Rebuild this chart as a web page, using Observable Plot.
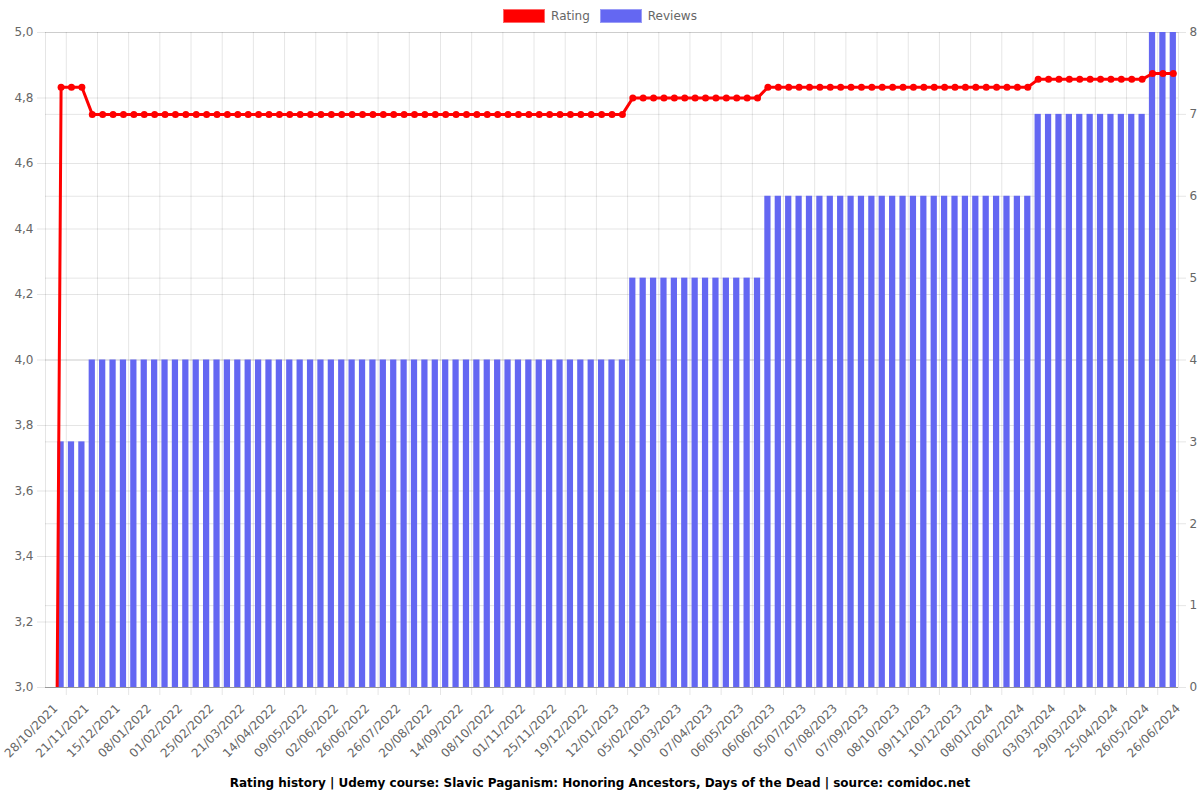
<!DOCTYPE html>
<html>
<head>
<meta charset="utf-8">
<script src="https://cdn.jsdelivr.net/npm/d3@7"></script>
<script src="https://cdn.jsdelivr.net/npm/@observablehq/plot@0.6"></script>
<style>
  body { margin: 0; background: #fff; font-family: "DejaVu Sans", sans-serif; }
  #wrap { position: relative; width: 1200px; height: 800px; overflow: hidden; }
  #legend { position: absolute; top: 0; left: 0; width: 1200px; height: 31px; display: flex; justify-content: center; align-items: center; font-size: 12px; color: #666; }
  .item { display: flex; align-items: center; margin: 0 5px; }
  .box { width: 40px; height: 12px; margin-right: 6px; box-sizing: content-box; }
  .layer { position: absolute; left: 0; top: 24px; }
  #caption { position: absolute; top: 775px; left: 0; width: 1200px; text-align: center; font-weight: bold; font-size: 12px; color: #000; line-height: 16px; }
</style>
</head>
<body>
<div id="wrap">
  <div id="legend"></div>
  <div id="l0" class="layer"></div>
  <div id="l1" class="layer"></div>
  <div id="l2" class="layer"></div>
  <div id="caption"></div>
</div>
<script>
// ---- data ----
const reviews = [
  0,
  3, 3, 3,
  4, 4, 4, 4, 4, 4, 4, 4, 4, 4, 4, 4, 4,
  4, 4, 4, 4, 4, 4, 4, 4, 4, 4, 4, 4, 4,
  4, 4, 4, 4, 4, 4, 4, 4, 4, 4, 4, 4, 4,
  4, 4, 4, 4, 4, 4, 4, 4, 4, 4, 4, 4, 4,
  5, 5, 5, 5, 5, 5, 5, 5, 5, 5, 5, 5, 5,
  6, 6, 6, 6, 6, 6, 6, 6, 6, 6, 6, 6, 6,
  6, 6, 6, 6, 6, 6, 6, 6, 6, 6, 6, 6, 6,
  7, 7, 7, 7, 7, 7, 7, 7, 7, 7, 7,
  8, 8, 8
];
const ratings = [
  0,
  4.833, 4.833, 4.833,
  4.75, 4.75, 4.75, 4.75, 4.75, 4.75, 4.75, 4.75, 4.75, 4.75, 4.75, 4.75, 4.75,
  4.75, 4.75, 4.75, 4.75, 4.75, 4.75, 4.75, 4.75, 4.75, 4.75, 4.75, 4.75, 4.75,
  4.75, 4.75, 4.75, 4.75, 4.75, 4.75, 4.75, 4.75, 4.75, 4.75, 4.75, 4.75, 4.75,
  4.75, 4.75, 4.75, 4.75, 4.75, 4.75, 4.75, 4.75, 4.75, 4.75, 4.75, 4.75, 4.75,
  4.8, 4.8, 4.8, 4.8, 4.8, 4.8, 4.8, 4.8, 4.8, 4.8, 4.8, 4.8, 4.8,
  4.833, 4.833, 4.833, 4.833, 4.833, 4.833, 4.833, 4.833, 4.833, 4.833, 4.833, 4.833, 4.833,
  4.833, 4.833, 4.833, 4.833, 4.833, 4.833, 4.833, 4.833, 4.833, 4.833, 4.833, 4.833, 4.833,
  4.857, 4.857, 4.857, 4.857, 4.857, 4.857, 4.857, 4.857, 4.857, 4.857, 4.857,
  4.875, 4.875, 4.875
];
const tickLabels = [
  "28/10/2021", "21/11/2021", "15/12/2021", "08/01/2022", "01/02/2022", "25/02/2022",
  "21/03/2022", "14/04/2022", "09/05/2022", "02/06/2022", "26/06/2022", "26/07/2022",
  "20/08/2022", "14/09/2022", "08/10/2022", "01/11/2022", "25/11/2022", "19/12/2022",
  "12/01/2023", "05/02/2023", "10/03/2023", "07/04/2023", "06/05/2023", "06/06/2023",
  "05/07/2023", "07/08/2023", "07/09/2023", "08/10/2023", "09/11/2023", "10/12/2023",
  "08/01/2024", "06/02/2024", "03/03/2024", "29/03/2024", "25/04/2024", "26/05/2024",
  "26/06/2024"
];
const ratingTicks = [3.0, 3.2, 3.4, 3.6, 3.8, 4.0, 4.2, 4.4, 4.6, 4.8, 5.0];
const reviewTicks = [0, 1, 2, 3, 4, 5, 6, 7, 8];
const seriesNames = ["Rating", "Reviews"];
const colors = { Rating: "#ff0000", Reviews: "#6467f2" };
const captionText = "Rating history | Udemy course: Slavic Paganism: Honoring Ancestors, Days of the Dead | source: comidoc.net";

// ---- layout ----
const W = 1200, H = 736, mt = 8, mb = 73, ml = 45, mr = 22;
const n = reviews.length;
const step = (W - ml - mr) / n;
const idx = d3.range(n);
const rows = idx.map(i => ({ i, rating: ratings[i], reviews: reviews[i] }));
const labelIdx = tickLabels.map((_, k) => k * 3);
const gridIdx = tickLabels.slice(0, -1).map((_, k) => k * 3 + 2);

const common = {
  width: W, height: H, marginTop: mt, marginBottom: mb, marginLeft: ml, marginRight: mr,
  style: { background: "transparent", fontFamily: "DejaVu Sans", fontSize: "12px", color: "#666", overflow: "visible" }
};
const xOpts = { type: "band", domain: idx, paddingInner: 0.4, paddingOuter: 0.2, axis: null };
const gridStyle = { stroke: "#000", strokeOpacity: 0.1, strokeWidth: 1 };

// Layer 0: rating gridlines (behind bars)
const p0 = Plot.plot({
  ...common,
  x: xOpts,
  y: { domain: [3, 5], axis: null },
  marks: [
    Plot.gridY({ ticks: ratingTicks, ...gridStyle, insetLeft: -8 })
  ]
});

// Layer 1: reviews bars, review gridlines, x axis, right axis
const p1 = Plot.plot({
  ...common,
  x: xOpts,
  y: { domain: [0, 8], axis: null },
  marks: [
    Plot.gridY({ ticks: reviewTicks, ...gridStyle, insetRight: -8 }),
    Plot.ruleX(gridIdx, { x: d => d, dx: -step / 2, ...gridStyle, insetBottom: -8 }),
    Plot.barY(rows, { x: "i", y: "reviews", fill: colors.Reviews }),
    Plot.ruleY([0], { stroke: "#999", strokeWidth: 1 }),
    Plot.ruleX([0], { x: d => d, dx: -step / 2, ...gridStyle }),
    Plot.ruleX([n - 1], { x: d => d, dx: step / 2, ...gridStyle }),
    Plot.axisY({ anchor: "right", ticks: reviewTicks, tickSize: 0, tickPadding: 11, tickFormat: d => String(d), label: null, fill: "#666" }),
    Plot.axisX({ ticks: labelIdx, tickSize: 0, tickPadding: 19, dx: 5, tickRotate: -45, tickFormat: i => tickLabels[i / 3], label: null, fill: "#666" })
  ]
});

// Layer 2: rating line, points, left axis
const p2 = Plot.plot({
  ...common,
  x: xOpts,
  y: { domain: [3, 5], axis: null },
  marks: [
    Plot.axisY({ anchor: "left", ticks: ratingTicks, tickSize: 0, tickPadding: 12, tickFormat: d => d.toFixed(1).replace(".", ","), label: null, fill: "#666" }),
    Plot.line(rows, { x: "i", y: "rating", stroke: colors.Rating, strokeWidth: 3, clip: true }),
    Plot.dot(rows, { x: "i", y: "rating", fill: colors.Rating, r: 3.5, clip: true })
  ]
});

document.getElementById("l0").append(p0);
document.getElementById("l1").append(p1);
document.getElementById("l2").append(p2);

// legend
const legend = document.getElementById("legend");
for (const name of seriesNames) {
  const item = document.createElement("div");
  item.className = "item";
  const box = document.createElement("div");
  box.className = "box";
  box.style.background = colors[name];
  box.style.border = name === "Rating" ? "1.5px solid #ff6666" : "1.5px solid #9a9cf7";
  const label = document.createElement("span");
  label.textContent = name;
  item.append(box, label);
  legend.append(item);
}
document.getElementById("caption").textContent = captionText;
</script>
</body>
</html>
